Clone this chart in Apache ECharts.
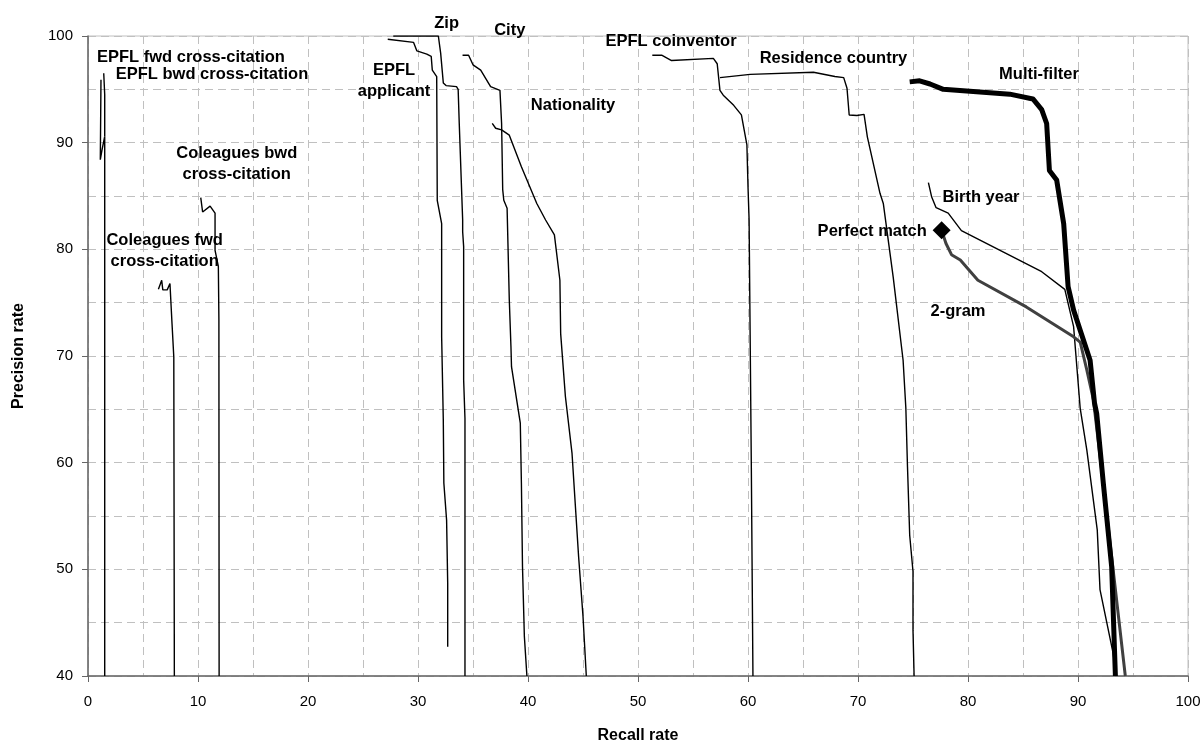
<!DOCTYPE html>
<html>
<head>
<meta charset="utf-8">
<script src="https://cdn.jsdelivr.net/npm/echarts@6/dist/echarts.min.js"></script>
<style>
  html, body { margin: 0; padding: 0; background: #fff; }
  #chart { width: 1202px; height: 744px; }
</style>
</head>
<body>
<div id="chart"></div>
<script>
// recall (x) / precision (y) pairs
const epflFwd = [[1.18, 95.9], [1.12, 88.4], [1.27, 89.3], [1.52, 90.6], [1.52, 40]]
const epflBwd = [[1.43, 96.5], [1.52, 94.5], [1.52, 90.6]]
const colBwd = [[10.25, 84.85], [10.42, 83.5], [11.1, 84.05], [11.55, 83.4], [11.55, 79.9], [11.85, 78.4], [11.9, 73.4], [11.92, 40]]
const colFwd = [[6.4, 76.25], [6.7, 77.1], [6.8, 76.2], [7.2, 76.2], [7.45, 76.8], [7.6, 76.7], [7.64, 73.0], [7.75, 73.0], [7.8, 69.9], [7.85, 40]]
const epflApplicant = [[27.25, 99.7], [29.6, 99.4], [29.9, 98.6], [30.8, 98.3], [31.2, 98.1], [31.3, 96.8], [31.7, 96.2], [31.75, 84.6], [32.15, 82.4], [32.15, 71.8], [32.3, 64.0], [32.35, 58.1], [32.6, 54.6], [32.7, 48.7], [32.7, 42.75]]
const zip = [[27.75, 100], [31.85, 100], [32.06, 98.4], [32.3, 95.6], [32.55, 95.35], [33.5, 95.25], [33.65, 95.0], [33.75, 91.8], [34.06, 82.75], [34.06, 81.65], [34.15, 80.25], [34.15, 67.75], [34.27, 64.15], [34.27, 40]]
const city = [[34.05, 98.2], [34.6, 98.2], [35.0, 97.3], [35.7, 96.8], [36.6, 95.25], [37.45, 94.9], [37.6, 91.8], [37.7, 85.6], [37.8, 84.6], [38.1, 83.85], [38.3, 75.25], [38.45, 70.9], [38.5, 69.0], [39.3, 63.7], [39.4, 58.1], [39.5, 50.25], [39.67, 43.7], [39.9, 40]]
const nationality = [[36.75, 91.8], [37.06, 91.35], [37.6, 91.2], [38.3, 90.7], [39.4, 87.75], [40.8, 84.3], [41.6, 82.75], [42.4, 81.35], [42.9, 77.1], [42.97, 72.1], [43.4, 66.2], [44.0, 60.9], [44.6, 51.2], [45.0, 45.6], [45.3, 40]]
const coinventor = [[51.3, 98.2], [52.15, 98.2], [53.05, 97.7], [56.85, 97.9], [57.2, 97.4], [57.45, 94.9], [57.75, 94.45], [58.7, 93.5], [59.4, 92.6], [59.9, 89.8], [60.0, 85.9], [60.1, 82.75], [60.3, 60], [60.45, 40]]
const residence = [[57.45, 96.1], [60.2, 96.4], [65.95, 96.6], [67.9, 96.2], [68.7, 96.1], [69.0, 95.1], [69.2, 92.6], [69.9, 92.55], [70.55, 92.65], [70.85, 90.55], [72.0, 85.25], [72.3, 84.3], [73.2, 77.4], [74.1, 69.6], [74.35, 65.1], [74.5, 59.6], [74.7, 53.2], [75.0, 49.8], [75.0, 44.3], [75.1, 40]]
const birthYear = [[76.4, 86.25], [76.7, 84.9], [77.1, 83.9], [78.2, 83.4], [79.4, 81.75], [86.7, 77.9], [88.8, 76.25], [89.6, 72.75], [90.2, 65.1], [90.8, 61.2], [91.75, 53.7], [92.0, 48.1], [93.2, 42.1], [93.45, 40]]
const twoGram = [[77.6, 81.8], [78.0, 80.55], [78.5, 79.5], [79.3, 79.0], [80.9, 77.1], [85.3, 74.6], [89.6, 71.8], [90.2, 71.3], [90.8, 68.7], [91.4, 65.9], [92.3, 58.0], [93.3, 49.0], [94.3, 40]]
const multiFilter = [[74.7, 95.7], [75.6, 95.8], [76.55, 95.5], [77.75, 95.0], [83.8, 94.55], [85.9, 94.1], [86.7, 93.1], [87.15, 91.8], [87.4, 87.4], [88.06, 86.5], [88.7, 82.4], [89.1, 76.5], [89.6, 74.3], [90.3, 72.1], [91.1, 69.6], [91.5, 65.6], [91.7, 64.6], [92.3, 58.1], [93.06, 50.25], [93.4, 40]]
const perfectMatch = [[77.6, 81.8]]

// curve names, anchored in data coordinates
const curveLabels = [
  { text: 'EPFL fwd cross-citation', at: [9.36, 98.0] },
  { text: 'EPFL bwd cross-citation', at: [11.27, 96.44] },
  { text: 'Coleagues bwd\ncross-citation', at: [13.52, 88.0] },
  { text: 'Coleagues fwd\ncross-citation', at: [6.97, 79.83] },
  { text: 'EPFL\napplicant', at: [27.82, 95.81] },
  { text: 'Zip', at: [32.6, 101.2] },
  { text: 'City', at: [38.34, 100.55] },
  { text: 'Nationality', at: [44.09, 93.53] },
  { text: 'EPFL coinventor', at: [53.0, 99.47] },
  { text: 'Residence country', at: [67.77, 97.91] },
  { text: 'Multi-filter', at: [86.45, 96.44] },
  { text: 'Birth year', at: [81.18, 84.88] },
  { text: 'Perfect match', at: [76.25, 81.72], right: true },
  { text: '2-gram', at: [79.09, 74.15] },
]

const xTicks = { min: 0, max: 100, step: 10 }
const yTicks = { min: 40, max: 100, step: 10 }

const font = 'Liberation Sans, Arial, Helvetica, sans-serif'
const dash = { color: '#c0c0c0', type: [8, 5], width: 1 }

function thin(name, data) {
  return {
    name, type: 'line', data, showSymbol: false, symbol: 'none',
    lineStyle: { color: '#000', width: 1.4 }, z: 3,
  }
}

const chart = echarts.init(document.getElementById('chart'))
const option = {
  animation: false,
  backgroundColor: '#fff',
  textStyle: { fontFamily: font },
  grid: {
    left: 88, right: 14, top: 36, bottom: 68,
    containLabel: false, outerBoundsMode: 'none',
    show: true, borderColor: '#c0c0c0', borderWidth: 1,
  },
  xAxis: {
    type: 'value', min: xTicks.min, max: xTicks.max, interval: xTicks.step,
    name: 'Recall rate', nameLocation: 'middle', nameGap: 52,
    nameTextStyle: { fontSize: 16, fontWeight: 'bold', color: '#000', fontFamily: font },
    axisLine: { show: true, lineStyle: { color: '#666', width: 1.5 } },
    axisTick: { show: true, length: 6, lineStyle: { color: '#666' } },
    axisLabel: { fontSize: 15, color: '#000', margin: 18, fontFamily: font },
    splitLine: { show: true, lineStyle: dash },
    minorTick: { show: false, splitNumber: 2 },
    minorSplitLine: { show: true, lineStyle: dash },
  },
  yAxis: {
    type: 'value', min: yTicks.min, max: yTicks.max, interval: yTicks.step,
    name: 'Precision rate', nameLocation: 'middle', nameGap: 61, nameRotate: 90,
    nameTextStyle: { fontSize: 16, fontWeight: 'bold', color: '#000', fontFamily: font },
    axisLine: { show: true, lineStyle: { color: '#666', width: 1.5 } },
    axisTick: { show: true, length: 6, lineStyle: { color: '#666' } },
    axisLabel: { fontSize: 15, color: '#000', margin: 15, fontFamily: font },
    splitLine: { show: true, lineStyle: dash },
    minorTick: { show: false, splitNumber: 2 },
    minorSplitLine: { show: true, lineStyle: dash },
  },
  series: [
    thin('EPFL fwd cross-citation', epflFwd),
    thin('EPFL bwd cross-citation', epflBwd),
    thin('Coleagues bwd cross-citation', colBwd),
    thin('Coleagues fwd cross-citation', colFwd),
    thin('EPFL applicant', epflApplicant),
    thin('Zip', zip),
    thin('City', city),
    thin('Nationality', nationality),
    thin('EPFL coinventor', coinventor),
    thin('Residence country', residence),
    thin('Birth year', birthYear),
    {
      name: '2-gram', type: 'line', data: twoGram, showSymbol: false, symbol: 'none',
      lineStyle: { color: '#404040', width: 3 }, z: 4,
    },
    {
      name: 'Multi-filter', type: 'line', data: multiFilter, showSymbol: false, symbol: 'none',
      lineStyle: { color: '#000', width: 5, cap: 'butt', join: 'round' }, z: 5,
    },
    {
      name: 'Perfect match', type: 'scatter', data: perfectMatch,
      symbol: 'diamond', symbolSize: 18, itemStyle: { color: '#000', opacity: 1 }, z: 6,
    },
    {
      name: 'labels', type: 'scatter', symbolSize: 0, clip: false, silent: true, z: 7,
      itemStyle: { opacity: 1 },
      data: curveLabels.map(l => ({
        value: l.at,
        name: l.text,
        label: l.right ? { align: 'right' } : {},
      })),
      label: {
        show: true, position: 'inside', formatter: p => p.name,
        fontSize: 16.5, fontWeight: 'bold', color: '#000', fontFamily: font,
        textBorderWidth: 0, opacity: 1,
        lineHeight: 21, align: 'center', verticalAlign: 'middle',
      },
    },
  ],
}
option && chart.setOption(option)
</script>
</body>
</html>
